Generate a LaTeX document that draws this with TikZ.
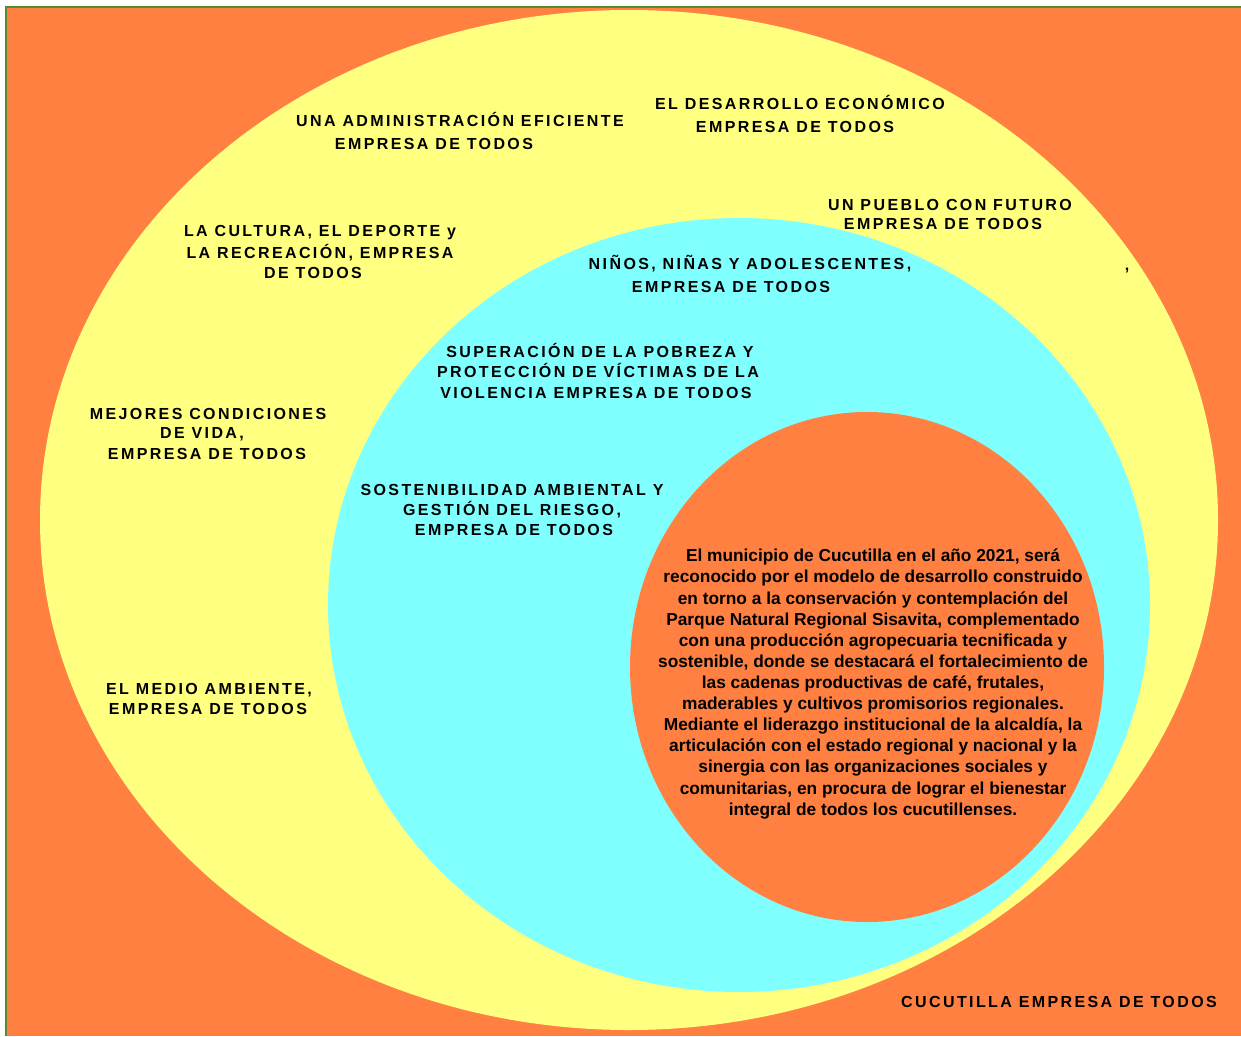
\documentclass[tikz,border=0pt]{standalone}
\usepackage{fontspec}
\setmainfont{Liberation Sans}
\newfontfamily\spaced[LetterSpace=15]{Liberation Sans}
\definecolor{naranja}{RGB}{255,128,64}
\definecolor{amarillo}{RGB}{255,255,128}
\definecolor{celeste}{RGB}{128,255,255}
\definecolor{marco}{RGB}{84,140,47}
\begin{document}
\begin{tikzpicture}[x=1pt,y=-1pt]
\tikzstyle{every node}=[inner sep=0,anchor=base,font=\spaced\bfseries\fontsize{16}{19}\selectfont]
\useasboundingbox (0,0) rectangle (1241,1036);
\fill[naranja] (6,7) rectangle (1241,1036);
\draw[marco,line width=1.5] (6,1036) -- (6,7) -- (1241,7);
\fill[amarillo] (629,520) ellipse [x radius=589pt,y radius=510pt];
\fill[celeste] (739,605) ellipse [x radius=411pt,y radius=387pt];
\fill[naranja] (867,667) ellipse [x radius=237pt,y radius=255pt];
\foreach \a/\x/\y/\txt in {admin1/460/126/UNA ADMINISTRACIÓN EFICIENTE,
  admin2/434/149/EMPRESA DE TODOS,
  econ1/800/109/EL DESARROLLO ECONÓMICO,
  econ2/795/132/EMPRESA DE TODOS,
  pueblo1/950/210/UN PUEBLO CON FUTURO,
  pueblo2/943/229/EMPRESA DE TODOS,
  cult1/320/236/{LA CULTURA, EL DEPORTE y},
  cult2/320/258/{LA RECREACIÓN, EMPRESA},
  cult3/313/278/DE TODOS,
  ninos1/750/269/{NIÑOS, NIÑAS Y ADOLESCENTES,},
  ninos2/731/292/EMPRESA DE TODOS,
  coma/1127/270/{,},
  pobre1/600/357/SUPERACIÓN DE LA POBREZA Y,
  pobre2/598/377/PROTECCIÓN DE VÍCTIMAS DE LA,
  pobre3/596/398/VIOLENCIA EMPRESA DE TODOS,
  vida1/208/419/MEJORES CONDICIONES,
  vida2/202/438/{DE VIDA,},
  vida3/207/459/EMPRESA DE TODOS,
  sost1/512/495/SOSTENIBILIDAD AMBIENTAL Y,
  sost2/512/515/{GESTIÓN DEL RIESGO,},
  sost3/514/535/EMPRESA DE TODOS,
  medio1/209/694/{EL MEDIO AMBIENTE,},
  medio2/208/714/EMPRESA DE TODOS,
  cucut/1059/1007/CUCUTILLA EMPRESA DE TODOS}{
\path (\x,\y) node (\a) {\txt};}
\path (873,549) node [anchor=north,align=center,font=\bfseries\fontsize{17.3}{21.1}\selectfont] (vision)
{El municipio de Cucutilla en el año 2021, será\\
reconocido por el modelo de desarrollo construido\\
en torno a la conservación y contemplación del\\
Parque Natural Regional Sisavita, complementado\\
con una producción agropecuaria tecnificada y\\
sostenible, donde se destacará el fortalecimiento de\\
las cadenas productivas de café, frutales,\\
maderables y cultivos promisorios regionales.\\
Mediante el liderazgo institucional de la alcaldía, la\\
articulación con el estado regional y nacional y la\\
sinergia con las organizaciones sociales y\\
comunitarias, en procura de lograr el bienestar\\
integral de todos los cucutillenses.};
\end{tikzpicture}
\end{document}
